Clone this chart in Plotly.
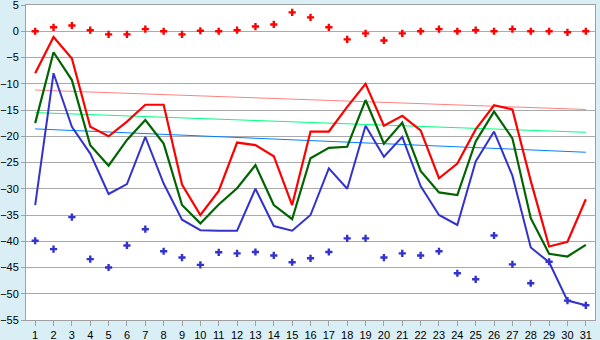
import plotly.graph_objects as go

days = list(range(1, 32))

red_line = [-8.0, -1.1, -5.2, -18.2, -20.0, -17.2, -14.0, -14.0, -29.2, -35.0, -30.4,
            -21.2, -21.7, -23.8, -33.1, -19.1, -19.1, -14.4, -10.0, -18.0, -16.1,
            -18.9, -28.0, -25.2, -18.7, -14.1, -14.9, -28.5, -41.0, -40.1, -32.0]
green_line = [-17.5, -4.0, -9.3, -21.7, -25.6, -20.7, -16.9, -21.4, -33.1, -36.6, -33.0,
              -29.9, -25.5, -33.1, -35.8, -24.2, -22.2, -22.0, -13.1, -21.4, -17.4,
              -26.6, -30.7, -31.2, -21.0, -15.3, -20.4, -35.6, -42.4, -42.9, -40.7]
blue_line = [-33.1, -8.0, -18.2, -23.3, -31.0, -29.1, -20.1, -29.0, -35.9, -37.9, -38.0,
             -38.0, -30.0, -37.1, -38.0, -35.0, -26.1, -30.0, -18.0, -23.9, -20.1,
             -29.5, -35.0, -36.9, -24.8, -19.1, -27.5, -41.2, -44.0, -51.3, -52.2]
red_points = [0.0, 0.75, 1.1, 0.2, -0.6, -0.6, 0.4, 0.0, -0.6, 0.1, 0.0,
              0.2, 0.9, 1.3, 3.6, 2.65, 0.75, -1.55, -0.4, -1.75, -0.4,
              0.0, 0.4, 0.0, 0.2, 0.0, 0.4, 0.0, 0.0, -0.2, 0.0]
blue_points = [-39.9, -41.5, -35.4, -43.4, -45.0, -40.8, -37.7, -41.9, -43.1, -44.5, -42.1,
               -42.3, -42.05, -42.7, -44.0, -43.25, -42.05, -39.45, -39.45, -43.1, -42.3,
               -42.7, -41.9, -46.1, -47.25, -38.9, -44.4, -48.0, -43.9, -51.3, -52.2]

trend_x = [1, 31]
red_trend = [-11.2, -14.9]
green_trend = [-15.5, -19.25]
blue_trend = [-18.6, -23.05]

fig = go.Figure()
for ys, col in [(red_trend, "#ff8080"), (green_trend, "#00ff80"), (blue_trend, "#0080ff")]:
    fig.add_trace(go.Scatter(x=trend_x, y=ys, mode="lines",
                             line=dict(color=col, width=1)))
fig.add_trace(go.Scatter(x=days, y=blue_line, mode="lines",
                         line=dict(color="#3333cc", width=2)))
fig.add_trace(go.Scatter(x=days, y=green_line, mode="lines",
                         line=dict(color="#006400", width=2.2)))
fig.add_trace(go.Scatter(x=days, y=red_line, mode="lines",
                         line=dict(color="#ff0000", width=2.2)))
fig.add_trace(go.Scatter(x=days, y=red_points, mode="markers",
                         marker=dict(symbol="cross", size=6, color="#ff0000")))
fig.add_trace(go.Scatter(x=days, y=blue_points, mode="markers",
                         marker=dict(symbol="cross", size=6, color="#3333cc")))

fig.update_layout(
    width=600, height=340,
    margin=dict(l=26, r=5, t=5, b=20),
    paper_bgcolor="#d9eef5",
    plot_bgcolor="#ffffff",
    showlegend=False,
    font=dict(family="Liberation Sans", size=11, color="#000000"),
)
fig.update_xaxes(range=[0.5, 31.5], tickvals=days, showgrid=False, zeroline=False,
                 ticks="outside", ticklen=5, tickcolor="#a0a0a0", automargin=False,
                 ticklabeloverflow="allow",
                 showline=True, linecolor="#a0a0a0", mirror=True, linewidth=1)
fig.update_yaxes(range=[-55, 5], dtick=5, showgrid=True, gridcolor="#aaaaaa",
                 zeroline=False, ticks="outside", ticklen=4, tickcolor="#a0a0a0",
                 automargin=False, ticklabelstandoff=0, ticklabeloverflow="allow",
                 showline=True, linecolor="#a0a0a0", mirror=True, linewidth=1)

fig.write_html("out.html", config={"displayModeBar": False},
               post_script="document.body.style.margin='0';")
